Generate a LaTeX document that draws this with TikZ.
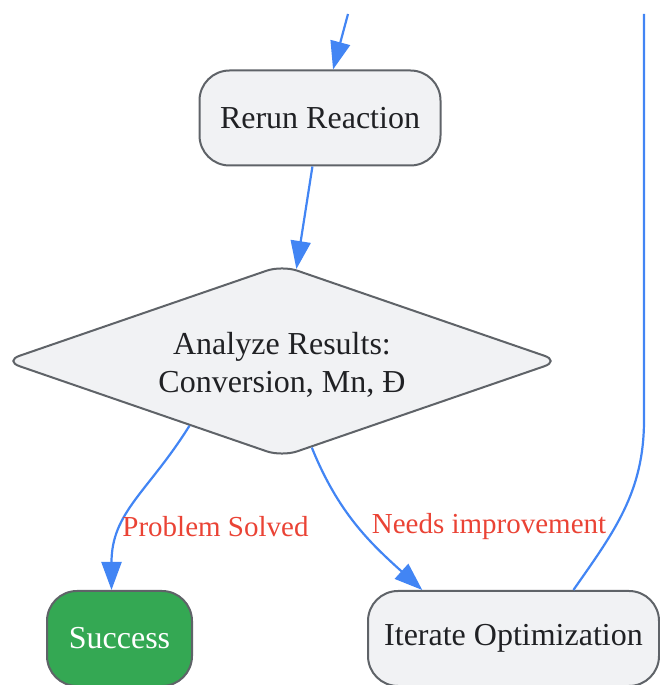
\documentclass[tikz,border=0pt]{standalone}
\usepackage{fontspec}
\setmainfont{Liberation Serif}
\usetikzlibrary{positioning,shapes.geometric,arrows.meta}
\definecolor{edgeblue}{HTML}{4285F4}
\definecolor{nodefill}{HTML}{F1F2F4}
\definecolor{nodeline}{HTML}{5F6368}
\definecolor{nodetext}{HTML}{202124}
\definecolor{lblred}{HTML}{EA4335}
\definecolor{okgreen}{HTML}{34A853}

\begin{document}
\begin{tikzpicture}[>={Triangle[length=28pt,width=20pt]}, x=1pt, y=1pt,
  box/.style={draw=nodeline, fill=nodefill, line width=2pt, rounded corners=30pt,
    minimum height=95pt, text=nodetext, font=\fontsize{32}{38}\selectfont},
  decision/.style={diamond, aspect=2.97, draw=nodeline, fill=nodefill, line width=2pt, rounded corners=16pt,
    minimum width=556pt, minimum height=192pt, inner sep=0pt, align=center,
    text=nodetext, font=\fontsize{32}{38}\selectfont},
  lbl/.style={text=lblred, font=\fontsize{29}{34}\selectfont},
  link/.style={->, draw=edgeblue, line width=2.2pt}]
  \useasboundingbox (0,0) rectangle (659,685);

  \node[box, minimum width=241pt] (rerun) at (320,567) {Rerun Reaction};
  \node[decision] (analyze) at (282,324) {\rule{0pt}{30pt}Analyze Results:\\Conversion, Mn, Đ};
  \node[box, minimum width=145pt, fill=okgreen, text=white] (success) at (119.5,46.5) {Success};
  \node[box, minimum width=291pt] (iterate) at (513.5,46.5) {Iterate Optimization};

  \coordinate (enter) at (348,671);
  \coordinate (loopbend) at (644,265);
  \coordinate (looptop) at (644,671);

  \draw[link] (enter) -- (rerun);
  \draw[link] (rerun) -- (analyze);
  \draw[link] (analyze.215) to[out=238,in=90,looseness=1.1] ([xshift=-8pt]success.north);
  \draw[link] (analyze.289) to[out=292,in=138] (iterate.152);
  %\draw[link] (iterate) -- (rerun);
  \draw[draw=edgeblue, line width=2.2pt] (iterate.39) to[out=55,in=270] (loopbend) -- (looptop);

  \node[lbl] (solved) at (215.5,158) {Problem Solved};
  \node[lbl] (improve) at (489,158) {Needs improvement};
\end{tikzpicture}
\end{document}
